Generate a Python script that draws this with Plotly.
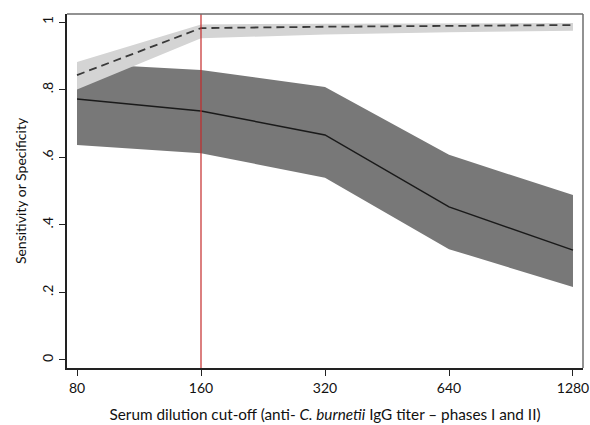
import plotly.graph_objects as go

cutoffs = [80, 160, 320, 640, 1280]
tick_text = ["80", "160", "320", "640", "1280"]

sensitivity = [0.772, 0.737, 0.666, 0.453, 0.325]
sens_upper = [0.878, 0.858, 0.808, 0.607, 0.488]
sens_lower = [0.636, 0.612, 0.539, 0.328, 0.216]

specificity = [0.843, 0.982, 0.986, 0.989, 0.991]
spec_upper = [0.882, 0.993, 0.995, 0.997, 0.997]
spec_lower = [0.800, 0.952, 0.963, 0.970, 0.974]

y_ticks = [0, 0.2, 0.4, 0.6, 0.8, 1]
y_tick_text = ["0", ".2", ".4", ".6", ".8", "1"]

cutoff_selected = 160

fig = go.Figure()

fig.add_trace(go.Scatter(
    x=cutoffs + cutoffs[::-1], y=sens_upper + sens_lower[::-1],
    fill="toself", fillcolor="#787878", line=dict(width=0),
    mode="lines", hoverinfo="skip", showlegend=False))
fig.add_trace(go.Scatter(
    x=cutoffs + cutoffs[::-1], y=spec_upper + spec_lower[::-1],
    fill="toself", fillcolor="#d4d4d4", line=dict(width=0),
    mode="lines", hoverinfo="skip", showlegend=False))
fig.add_trace(go.Scatter(
    x=cutoffs, y=sensitivity, mode="lines",
    line=dict(color="#1a1a1a", width=1.5), showlegend=False))
fig.add_trace(go.Scatter(
    x=cutoffs, y=specificity, mode="lines",
    line=dict(color="#3a3a3a", width=1.8, dash="8px,5px"), showlegend=False))

fig.add_shape(type="line", xref="x", yref="paper", x0=cutoff_selected, x1=cutoff_selected,
              y0=0, y1=1, line=dict(color="#c42a2a", width=1.2), layer="above")
# top and right frame (lighter)
fig.add_shape(type="line", xref="paper", yref="paper", x0=0, x1=1, y0=1, y1=1,
              line=dict(color="#6e6e6e", width=1.5), layer="above")
fig.add_shape(type="line", xref="paper", yref="paper", x0=1, x1=1, y0=0, y1=1,
              line=dict(color="#6e6e6e", width=1.5), layer="above")

font_family = "Lato, Open Sans, sans-serif"

fig.update_layout(
    width=590, height=425,
    margin=dict(l=67, r=7, t=14, b=57, autoexpand=False),
    plot_bgcolor="white", paper_bgcolor="white",
    font=dict(family=font_family, color="#111111", size=14),
    xaxis=dict(
        type="log", range=[1.8788, 3.1315], automargin=False,
        tickvals=cutoffs, ticktext=tick_text,
        ticks="outside", ticklen=6, tickwidth=1.2, tickcolor="#222",
        showline=True, linecolor="#222", linewidth=2,
        showgrid=False, zeroline=False,
        tickfont=dict(size=14),
        title=dict(text="Serum dilution cut-off (anti- <i>C. burnetii</i> IgG titer – phases I and II)",
                   font=dict(size=15.3), standoff=14),
    ),
    yaxis=dict(
        range=[-0.0237, 1.0237], automargin=False,
        tickvals=y_ticks, ticktext=y_tick_text, tickangle=-90,
        ticks="outside", ticklen=6, tickwidth=1.2, tickcolor="#222",
        showline=True, linecolor="#222", linewidth=2,
        showgrid=False, zeroline=False,
        tickfont=dict(size=14),
        title=dict(text="Sensitivity or Specificity", font=dict(size=14), standoff=10),
    ),
)

fig.write_html(
    "out.html", config={"displayModeBar": False},
    post_script=("document.body.style.margin='0';"
                 "document.body.style.overflow='hidden';"
                 "document.documentElement.style.overflow='hidden';"))
